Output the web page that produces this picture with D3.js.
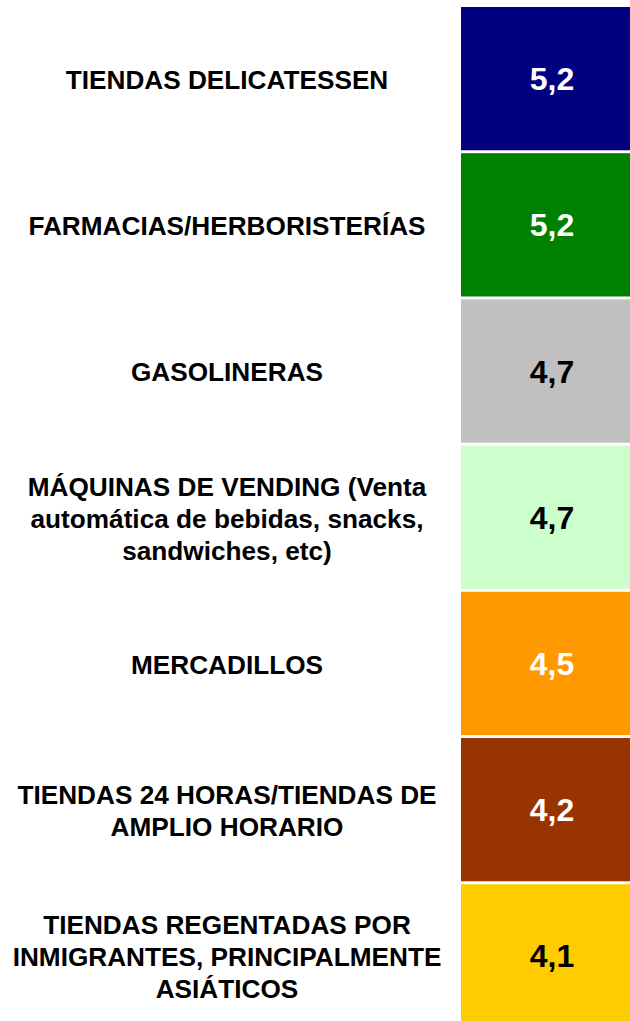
<html>

<head>
	<meta charset="utf-8">
	<script src="https://d3js.org/d3.v7.min.js"></script>
</head>

<body style="margin:0;background:#fff">
	<svg width="630" height="1021"></svg>
	<script>
		// categories, one entry per row (label lines as shown)
		var categories = [
			["TIENDAS DELICATESSEN"],
			["FARMACIAS/HERBORISTERÍAS"],
			["GASOLINERAS"],
			["MÁQUINAS DE VENDING (Venta", "automática de bebidas, snacks,", "sandwiches, etc)"],
			["MERCADILLOS"],
			["TIENDAS 24 HORAS/TIENDAS DE", "AMPLIO HORARIO"],
			["TIENDAS REGENTADAS POR", "INMIGRANTES, PRINCIPALMENTE", "ASIÁTICOS"]
		];
		var values = [5.2, 5.2, 4.7, 4.7, 4.5, 4.2, 4.1];
		var fills = ["#000080", "#008000", "#c0c0c0", "#ccffcc", "#ff9900", "#993300", "#ffcc00"];
		var valueColors = ["#fff", "#fff", "#000", "#000", "#fff", "#fff", "#000"];

		var data = categories.map(function (c, i) {
			return { key: c.join(" "), lines: c, value: values[i], fill: fills[i], tc: valueColors[i] };
		});

		var svg = d3.select("svg");
		var fmt = d3.formatLocale({ decimal: ",", thousands: ".", grouping: [3], currency: ["", "€"] }).format(".1f");

		var y = d3.scaleBand()
			.domain(data.map(function (d) { return d.key; }))
			.range([7, 1027.5])
			.paddingInner(0.02);

		var boxLeft = 461, boxRight = 643, labelX = 227;

		var row = svg.selectAll("g.row")
			.data(data)
			.enter().append("g")
			.attr("class", "row");

		row.append("rect")
			.attr("x", boxLeft)
			.attr("y", function (d) { return y(d.key); })
			.attr("width", boxRight - boxLeft)
			.attr("height", y.bandwidth())
			.attr("fill", function (d) { return d.fill; });

		row.append("text")
			.attr("x", (boxLeft + boxRight) / 2)
			.attr("y", function (d) { return y(d.key) + y.bandwidth() / 2; })
			.attr("dy", "0.36em")
			.attr("text-anchor", "middle")
			.attr("font-family", "Liberation Sans, Arial, sans-serif")
			.attr("font-weight", "bold")
			.attr("font-size", 32)
			.attr("fill", function (d) { return d.tc; })
			.text(function (d) { return fmt(d.value); });

		var lineH = 32;
		row.append("text")
			.attr("text-anchor", "middle")
			.attr("font-family", "Liberation Sans, Arial, sans-serif")
			.attr("font-weight", "bold")
			.attr("font-size", 26.2)
			.attr("fill", "#000")
			.each(function (d) {
				var t = d3.select(this);
				var cy = y(d.key) + y.bandwidth() / 2 + 1 - (d.lines.length - 1) * lineH / 2;
				d.lines.forEach(function (l, i) {
					t.append("tspan")
						.attr("x", labelX)
						.attr("y", cy + i * lineH)
						.attr("dy", "0.36em")
						.text(l);
				});
			});
	</script>

</body>

</html>
